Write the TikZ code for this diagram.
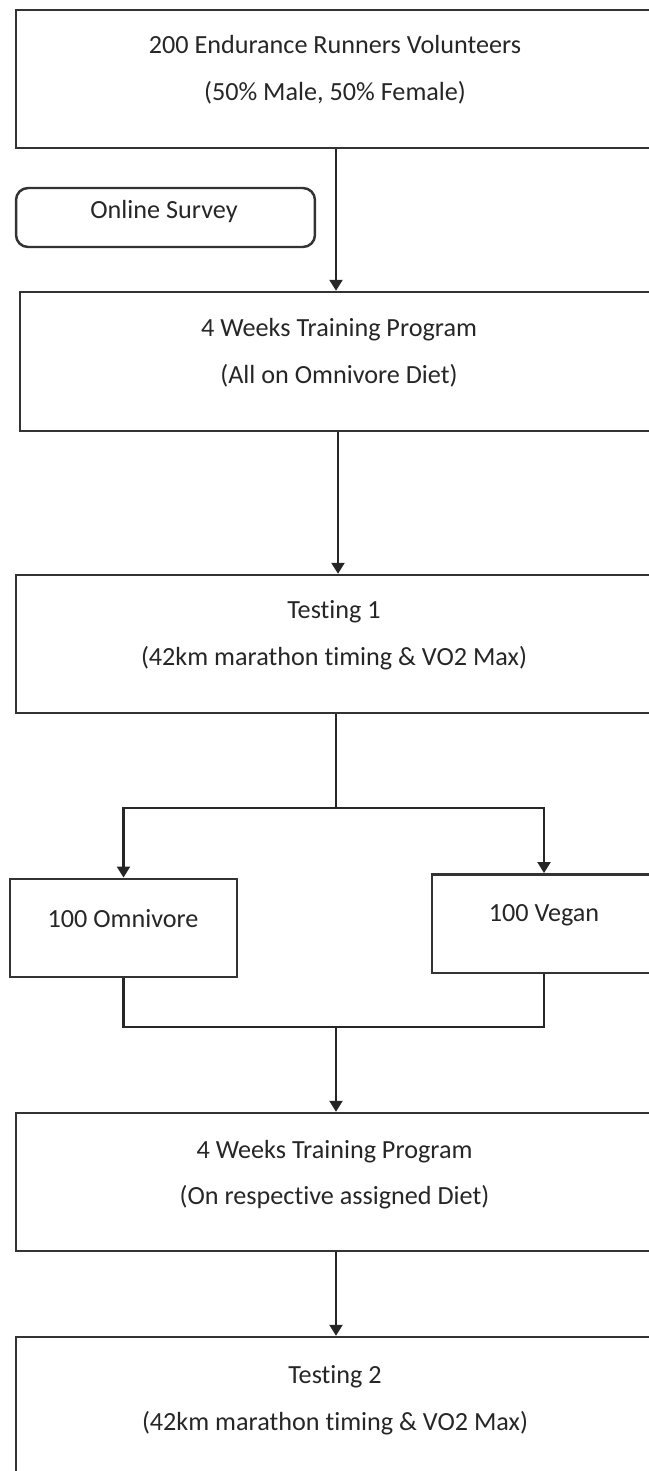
\documentclass[tikz,border=0pt]{standalone}
\usepackage{fontspec}
\setmainfont{Carlito}[Ligatures=NoCommon]
\usetikzlibrary{arrows.meta}

\tikzset{
		stage/.style = {shape=rectangle, draw=black!80, line width=1.4pt,
				inner sep=0pt, minimum width=12.8cm, minimum height=2.76cm},
		group/.style = {stage, minimum width=4.5cm, minimum height=1.97cm},
		note/.style  = {stage, rounded corners=0.24cm,
				minimum width=5.98cm, minimum height=1.18cm},
		txt/.style   = {align=center, text=black!85, inner sep=0pt,
				font=\fontsize{14.9}{26.5}\selectfont},
		arr/.style   = {draw=black!85, line width=1.3pt,
				-{Triangle[width=0.26cm,length=0.22cm]}},
		link/.style  = {draw=black!85, line width=1.3pt}
	}

\begin{document}
\begin{tikzpicture}
				[x = 0.02cm, y = -0.02cm]
				\useasboundingbox (0,0) rectangle (649,1471);
				\clip (0,0) rectangle (649,1471);
				\node [stage] (recruit) at (336,79) {};
				\node [note] (survey) at (165.5,217.5) {};
				\node [stage, minimum width=12.72cm, minimum height=2.78cm] (train1) at (338,361.5) {};
				\node [stage] (test1) at (336,644) {};
				\node [group, minimum width=4.54cm] (omni) at (123.5,928) {};
				\node [group, minimum width=4.48cm] (vegan) at (544,923.5) {};
				\node [stage] (train2) at (336,1182) {};
				\node [stage] (test2) at (336,1406) {};

				\node [txt] (recruit-t) at (335,70) {200 Endurance Runners Volunteers\\(50\% Male, 50\% Female)};
				\node [txt] (survey-t) at (164,212) {Online Survey};
				\node [txt] (train1-t) at (339,352.5) {4 Weeks Training Program\\(All on Omnivore Diet)};
				\node [txt] (test1-t) at (334,635) {Testing 1\\(42km marathon timing \& VO2 Max)};
				\node [txt] (omni-t) at (123,919) {100 Omnivore};
				\node [txt] (vegan-t) at (544,915) {100 Vegan};
				\node [txt] (train2-t) at (334.5,1174.5) {4 Weeks Training Program\\(On respective assigned Diet)};
				\node [txt] (test2-t) at (335,1400) {Testing 2\\(42km marathon timing \& VO2 Max)};

				\coordinate (split) at (336,808);
				\coordinate (merge) at (336,1027);
				\draw [arr] (recruit.south) -- (recruit.south |- train1.north);
				\draw [arr] (train1.south) -- (train1.south |- test1.north);
				\draw [link] (test1.south) -- (split);
				\draw [arr] (split) -| (omni.north);
				\draw [arr] (split) -| (vegan.north);
				\draw [link] (omni.south) |- (merge) -| (vegan.south);
				\draw [arr] (merge) -- (merge |- train2.north);
				\draw [arr] (train2.south) -- (train2.south |- test2.north);
			\end{tikzpicture}
\end{document}
